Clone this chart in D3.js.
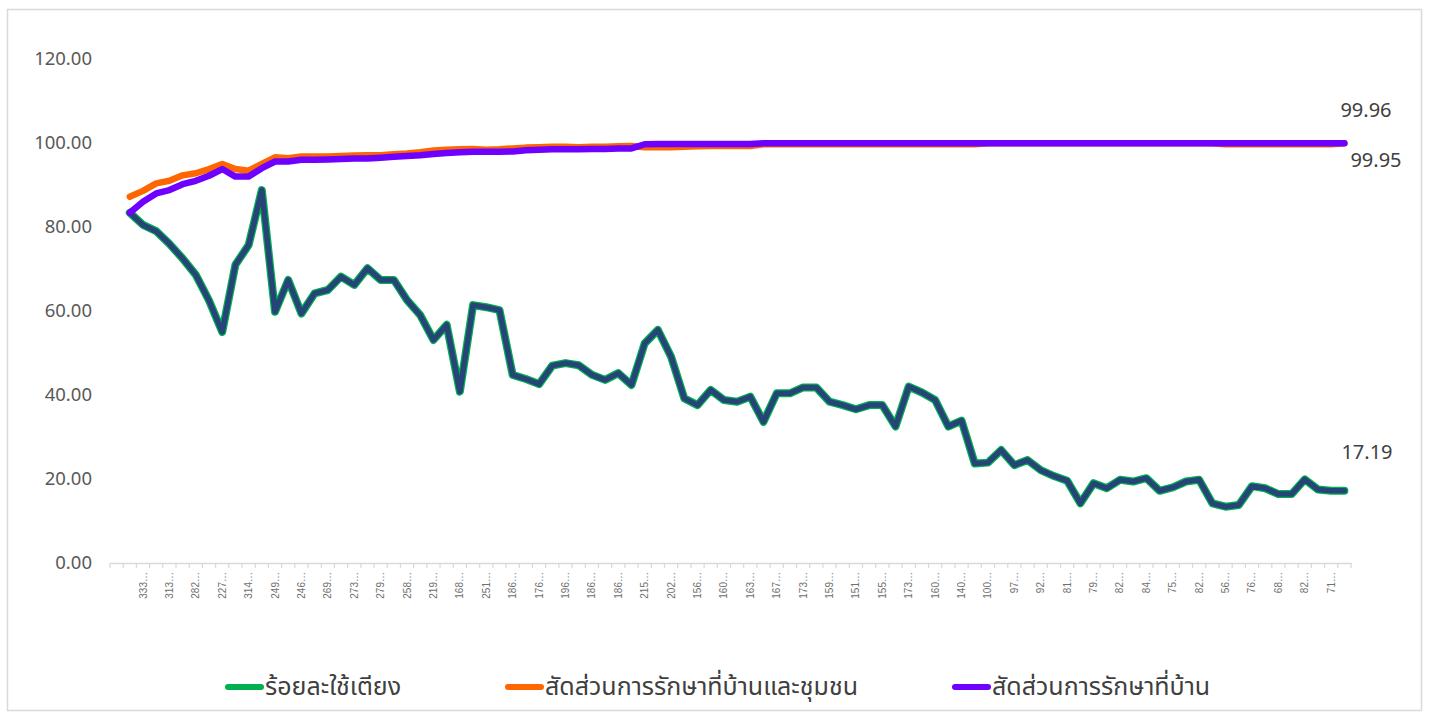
<!DOCTYPE html>
<html>
<head>
<meta charset="utf-8">
<script src="https://cdn.jsdelivr.net/npm/d3@7"></script>
<style>
  html, body { margin: 0; padding: 0; background: #fff; }
  svg { display: block; }
</style>
</head>
<body>
<svg id="chart" width="1429" height="717"></svg>
<script>
// ---------- DATA ----------
// visible (every-other) category labels on the x axis, shown truncated
const tickLabels = ["333","313","282","227","314","249","246","269","273","279","258","219","168","251","186","176",
  "196","186","186","215","202","156","160","163","167","173","159","151","155","173","160","140",
  "100","97","92","81","79","82","84","75","82","56","76","68","82","71"];

const seriesNames = ["ร้อยละใช้เตียง", "สัดส่วนการรักษาที่บ้านและชุมชน", "สัดส่วนการรักษาที่บ้าน"];

const bedUse = [83.4,80.5,79.0,76.0,72.5,68.6,62.5,55.0,71.0,75.7,88.8,59.8,67.4,59.4,64.2,65.0,68.2,66.2,70.2,67.4,
  67.4,62.6,59.0,53.1,56.7,40.8,61.4,60.9,60.2,44.8,43.8,42.6,47.0,47.6,47.1,44.8,43.6,45.2,42.4,52.3,
  55.5,49.1,39.2,37.6,41.2,38.8,38.4,39.6,33.6,40.4,40.4,41.8,41.8,38.4,37.6,36.6,37.6,37.6,32.5,42.0,
  40.6,38.8,32.5,33.9,23.7,23.9,26.9,23.3,24.5,22.1,20.7,19.6,14.2,19.0,17.8,19.8,19.4,20.2,17.2,18.0,
  19.4,19.8,14.2,13.4,13.8,18.3,17.8,16.4,16.4,19.9,17.5,17.2,17.19];

const homeCommunity = [87.2,88.6,90.4,91.0,92.3,92.8,93.8,95.0,93.8,93.4,95.0,96.6,96.4,96.8,96.8,96.8,96.9,97.0,97.1,97.1,
  97.3,97.5,97.8,98.2,98.4,98.5,98.6,98.4,98.5,98.7,98.9,99.0,99.1,99.1,99.0,99.1,99.1,99.2,99.3,99.0,
  99.0,99.0,99.1,99.2,99.3,99.3,99.3,99.3,99.7,99.7,99.7,99.7,99.7,99.7,99.7,99.7,99.7,99.7,99.7,99.7,
  99.7,99.7,99.7,99.7,99.7,99.95,99.95,99.95,99.95,99.95,99.95,99.95,99.95,99.95,99.95,99.95,99.95,99.95,99.95,99.95,
  99.95,99.95,99.95,99.7,99.7,99.7,99.7,99.7,99.7,99.7,99.7,99.7,99.95];

const homeOnly = [83.4,86.0,88.0,88.8,90.2,91.0,92.2,93.8,92.0,92.0,94.0,95.6,95.6,96.0,96.0,96.1,96.2,96.3,96.3,96.5,
  96.7,96.9,97.1,97.4,97.6,97.8,97.9,97.9,97.9,98.0,98.3,98.4,98.5,98.5,98.5,98.6,98.6,98.7,98.7,99.7,
  99.75,99.75,99.75,99.75,99.75,99.75,99.75,99.75,99.95,99.95,99.95,99.95,99.95,99.95,99.95,99.95,99.95,99.95,99.95,99.95,
  99.95,99.95,99.95,99.95,99.95,99.95,99.95,99.95,99.95,99.95,99.95,99.95,99.95,99.95,99.95,99.95,99.95,99.95,99.95,99.95,
  99.95,99.95,99.95,99.95,99.95,99.95,99.95,99.95,99.95,99.95,99.95,99.95,99.96];

const yTicks = [0, 20, 40, 60, 80, 100, 120];

// ---------- LAYOUT ----------
const svg = d3.select("#chart");
const plot = { left: 110, right: 1351, top: 59, bottom: 563 };

// border
svg.append("rect").attr("x", 7.5).attr("y", 9.5).attr("width", 1414).attr("height", 701)
  .attr("fill", "#fff").attr("stroke", "#d9d9d9").attr("stroke-width", 1.5);

// one leading empty category, then one category per data point
const nCat = bedUse.length + 1;
const catIdx = d3.range(nCat);
const x = d3.scaleBand().domain(catIdx).range([plot.left, plot.right]).padding(0);
const cx = i => x(i + 1) + x.bandwidth() / 2;   // data index -> center of its category
const y = d3.scaleLinear().domain([0, 120]).range([plot.bottom, plot.top]);

const labelFor = c => (c >= 2 && c % 2 === 0) ? tickLabels[c / 2 - 1] + "…" : "";

// y axis labels (no line, no grid)
const yAxis = d3.axisLeft(y).tickValues(yTicks).tickFormat(d3.format(".2f")).tickSize(0).tickPadding(0);
const gy = svg.append("g").attr("transform", `translate(${plot.left - 18},0)`).call(yAxis);
gy.select(".domain").remove();
gy.selectAll("text").attr("font-family", "'Noto Sans', 'Open Sans', sans-serif")
  .attr("font-size", 18.5).attr("fill", "#595959");

// x axis
const xAxis = d3.axisBottom(x).tickValues(catIdx).tickFormat(labelFor).tickSize(0);
const gx = svg.append("g").attr("transform", `translate(0,${plot.bottom})`).call(xAxis);
gx.select(".domain").attr("stroke", "#d9d9d9").attr("stroke-width", 1.5);
gx.selectAll(".tick line").remove();
gx.selectAll("text")
  .attr("font-family", "'Liberation Sans', Arial, sans-serif")
  .attr("font-size", 10).attr("fill", "#6f6f6f")
  .attr("text-anchor", "end").attr("dy", null).attr("y", 0)
  .attr("transform", "translate(3.5,9) rotate(-90)");
// tick marks at category boundaries
const bounds = d3.range(nCat + 1).map(i => plot.left + i * x.bandwidth());
gx.selectAll("line.bt").data(bounds).join("line").attr("class", "bt")
  .attr("x1", d => d).attr("x2", d => d).attr("y1", 0).attr("y2", 5)
  .attr("stroke", "#d9d9d9").attr("stroke-width", 1.2);

// lines
const line = d3.line().x((d, i) => cx(i)).y(d => y(d)).curve(d3.curveLinear);

const g = svg.append("g").attr("fill", "none").attr("stroke-linejoin", "round").attr("stroke-linecap", "round");
g.append("path").datum(bedUse).attr("d", line).attr("stroke", "#00b050").attr("stroke-width", 8);
g.append("path").datum(bedUse).attr("d", line).attr("stroke", "#264478").attr("stroke-width", 5.5);
g.append("path").datum(homeCommunity).attr("d", line).attr("stroke", "#ff6600").attr("stroke-width", 6.5);
g.append("path").datum(homeOnly).attr("d", line).attr("stroke", "#6f00ff").attr("stroke-width", 6.5);

// end labels
const last = bedUse.length - 1;
const lblFont = "'Noto Sans', 'Open Sans', sans-serif";
const endLabels = [
  { v: homeOnly[last], dx: -4, dy: -32 },
  { v: homeCommunity[last], dx: 6, dy: 18 },
  { v: bedUse[last], dx: -3, dy: -37 }
];
svg.selectAll("text.end").data(endLabels).join("text").attr("class", "end")
  .attr("x", d => cx(last) + d.dx).attr("y", d => y(d.v) + d.dy)
  .attr("dominant-baseline", "middle")
  .attr("font-family", lblFont).attr("font-size", 20).attr("fill", "#404040")
  .text(d => d3.format(".2f")(d.v));

// legend
const legColors = ["#00b050", "#ff6600", "#6f00ff"];
const legX = [228, 508, 955];
const legY = 687;
const lg = svg.append("g");
seriesNames.forEach((name, i) => {
  lg.append("line").attr("x1", legX[i]).attr("x2", legX[i] + 33).attr("y1", legY).attr("y2", legY)
    .attr("stroke", legColors[i]).attr("stroke-width", 6).attr("stroke-linecap", "round");
  lg.append("text").attr("x", legX[i] + 37).attr("y", legY + 1).attr("dominant-baseline", "middle")
    .attr("font-family", "'Noto Sans', 'Noto Sans Thai', sans-serif").attr("font-size", 25).attr("fill", "#404040")
    .text(name);
});
</script>
</body>
</html>
